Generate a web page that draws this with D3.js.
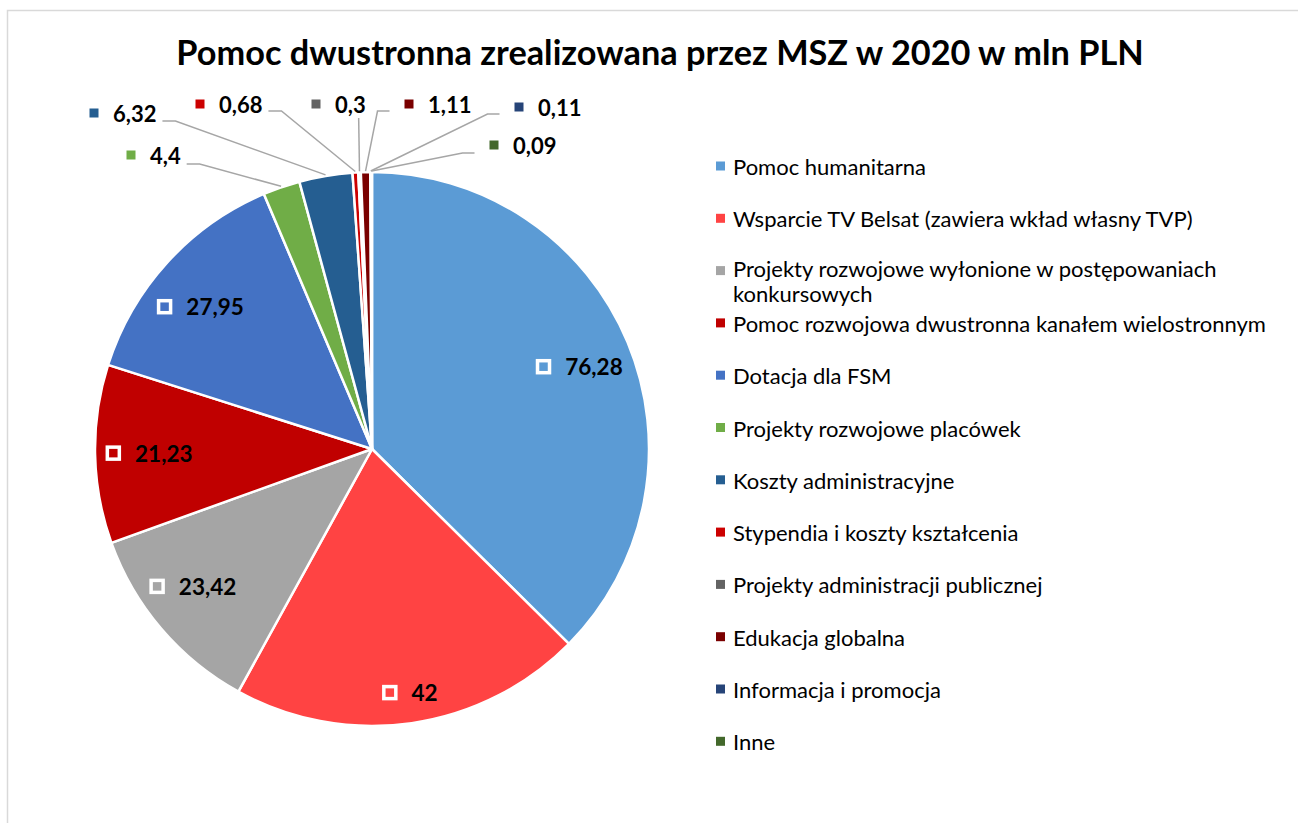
<!DOCTYPE html>
<html>
<head>
<meta charset="utf-8">
<script src="https://cdn.jsdelivr.net/npm/d3@7"></script>
<style>
  html, body { margin: 0; padding: 0; background: #fff; }
  svg { display: block; }
  text { font-family: Lato, "Open Sans", "Noto Sans", sans-serif; }
</style>
</head>
<body>
<svg id="chart" width="1298" height="823"></svg>
<script>
// ---------- data ----------
const title = "Pomoc dwustronna zrealizowana przez MSZ w 2020 w mln PLN";
const categories = [
  "Pomoc humanitarna",
  "Wsparcie TV Belsat (zawiera wkład własny TVP)",
  "Projekty rozwojowe wyłonione w postępowaniach konkursowych",
  "Pomoc rozwojowa dwustronna kanałem wielostronnym",
  "Dotacja dla FSM",
  "Projekty rozwojowe placówek",
  "Koszty administracyjne",
  "Stypendia i koszty kształcenia",
  "Projekty administracji publicznej",
  "Edukacja globalna",
  "Informacja i promocja",
  "Inne"
];
const values = [76.28, 42, 23.42, 21.23, 27.95, 4.4, 6.32, 0.68, 0.3, 1.11, 0.11, 0.09];
const colors = ["#5B9BD5", "#FF4343", "#A5A5A5", "#C00000", "#4472C4", "#70AD47",
                "#255E91", "#CC0000", "#636363", "#7A0000", "#264478", "#43682B"];

// ---------- layout ----------
const W = 1298, H = 823;
const cx = 372, cy = 449, R = 277;
// inside label placement: radius factor and angle tweak (deg) for big slices
const insideLayout = {0: [0.805, 1], 1: [0.89, -0.6], 2: [0.815, 3], 3: [0.805, 0], 4: [0.805, -2.7]};
// outside label placement (marker centre) and leader elbow for small slices
const outsideLayout = {
  5:  {mx: 131, my: 155, side: "L", ly: 164},
  6:  {mx: 94,  my: 113, side: "L", ly: 121},
  7:  {mx: 200, my: 104, side: "L", ly: 111},
  8:  {mx: 316, my: 104, side: "V", ly: 118},
  9:  {mx: 409, my: 104, side: "R", ly: 111},
  10: {mx: 519, my: 107, side: "R", ly: 114},
  11: {mx: 494, my: 145, side: "R", ly: 153}
};
const fmt = v => String(v).replace(".", ",");

const svg = d3.select("#chart");

// chart border
svg.append("rect")
  .attr("x", 7.5).attr("y", 10.5)
  .attr("width", W + 20).attr("height", H + 20)
  .attr("fill", "none").attr("stroke", "#d9d9d9").attr("stroke-width", 1.5);

// title
svg.append("text")
  .attr("x", 660).attr("y", 65)
  .attr("text-anchor", "middle")
  .attr("font-size", 34.3).attr("font-weight", 700).attr("fill", "#000")
  .text(title);

// pie
const pie = d3.pie().sort(null).value(d => d)(values);
const arc = d3.arc().innerRadius(0).outerRadius(R);
const g = svg.append("g").attr("transform", `translate(${cx},${cy})`);
g.selectAll("path.slice").data(pie).join("path")
  .attr("class", "slice")
  .attr("d", arc)
  .attr("fill", (d, i) => colors[i])
  .attr("stroke", "#fff").attr("stroke-width", 2.5).attr("stroke-linejoin", "round");

const mid = d => (d.startAngle + d.endAngle) / 2;

// inside labels
pie.forEach((d, i) => {
  if (!(i in insideLayout)) return;
  const [rf, da] = insideLayout[i];
  const a = mid(d) + da * Math.PI / 180;
  const px = cx + Math.sin(a) * R * rf;
  const py = cy - Math.cos(a) * R * rf;
  const lg = svg.append("g");
  const t = lg.append("text")
    .attr("font-size", 22.5).attr("font-weight", 700).attr("fill", "#000")
    .attr("dominant-baseline", "central")
    .text(fmt(values[i]));
  const tw = t.node().getComputedTextLength();
  const ms = 12, gap = 14;
  const total = ms + 3.5 + gap + tw;
  const x0 = px - total / 2;
  lg.append("rect")
    .attr("x", x0 + 1.75).attr("y", py - ms / 2)
    .attr("width", ms).attr("height", ms)
    .attr("fill", "none").attr("stroke", "#fff").attr("stroke-width", 3.5);
  t.attr("x", x0 + ms + 3.5 + gap).attr("y", py);
});

// outside labels with leader lines
pie.forEach((d, i) => {
  const o = outsideLayout[i];
  if (!o) return;
  const a = mid(d);
  const ex = cx + Math.sin(a) * (R + 1);
  const ey = cy - Math.cos(a) * (R + 1);
  const ms = 9;
  svg.append("rect")
    .attr("x", o.mx - ms / 2).attr("y", o.my - ms / 2)
    .attr("width", ms).attr("height", ms)
    .attr("fill", colors[i]);
  const tx = o.mx + 19;
  const t = svg.append("text")
    .attr("x", tx).attr("y", o.my)
    .attr("font-size", 22).attr("font-weight", 700).attr("fill", "#000")
    .attr("dominant-baseline", "central")
    .text(fmt(values[i]));
  const tw = t.node().getComputedTextLength();
  let pts;
  if (o.side === "L") {
    const s = tx + tw + 6;
    pts = [[s, o.ly], [s + 13, o.ly], [ex, ey]];
  } else if (o.side === "R") {
    const s = o.mx - ms / 2 - 15;
    pts = [[s, o.ly], [s - 12, o.ly], [ex, ey]];
  } else {
    const s = tx + tw - 7;
    pts = [[s, o.ly], [ex, ey]];
  }
  svg.append("path")
    .attr("d", d3.line()(pts))
    .attr("fill", "none").attr("stroke", "#a6a6a6").attr("stroke-width", 1.5);
});

// legend
const legX = 716, legY0 = 166, legStep = 52.3, legMaxW = 1292 - 733;
const leg = svg.append("g");
categories.forEach((c, i) => {
  const y = legY0 + i * legStep;
  leg.append("rect")
    .attr("x", legX).attr("y", y - 4.5)
    .attr("width", 9).attr("height", 9)
    .attr("fill", colors[i]);
  const t = leg.append("text")
    .attr("x", 733).attr("y", y)
    .attr("font-size", 22).attr("fill", "#000")
    .attr("dominant-baseline", "central");
  // greedy wrap
  const words = c.split(" ");
  let line = [], lines = [];
  const probe = t.append("tspan");
  words.forEach(w => {
    const test = line.concat(w).join(" ");
    probe.text(test);
    if (probe.node().getComputedTextLength() > legMaxW && line.length) {
      lines.push(line.join(" "));
      line = [w];
    } else line.push(w);
  });
  lines.push(line.join(" "));
  probe.remove();
  const y0 = lines.length > 1 ? y - 3 : y;
  lines.forEach((ln, k) => {
    t.append("tspan").attr("x", 733).attr("y", y0 + k * 25.5).text(ln);
  });
});
</script>
</body>
</html>
